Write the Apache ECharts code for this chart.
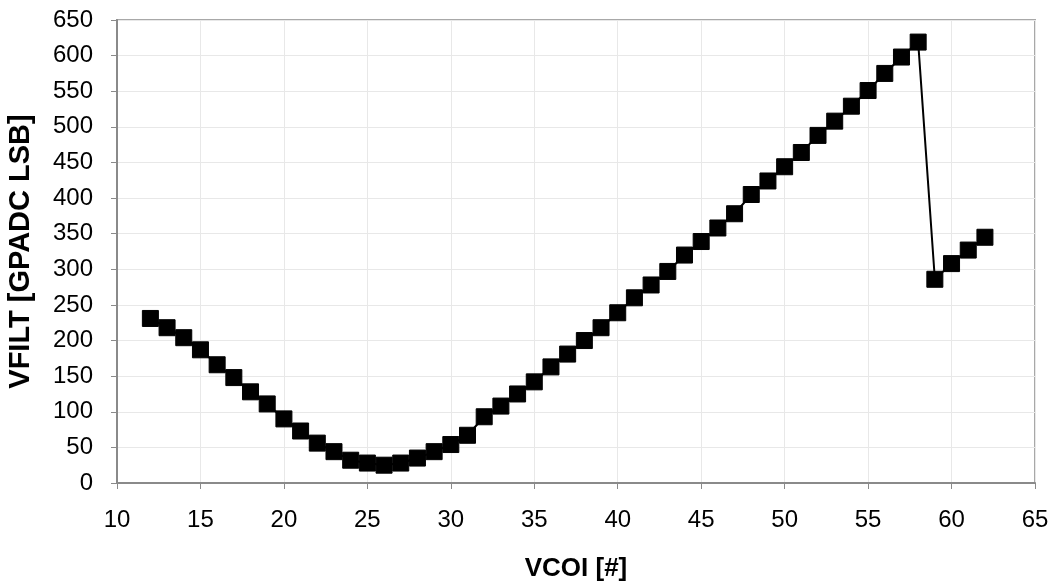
<!DOCTYPE html>
<html>
<head>
<meta charset="utf-8">
<script src="https://cdn.jsdelivr.net/npm/echarts@6/dist/echarts.min.js"></script>
<style>
  html, body {margin: 0; padding: 0; background: #fff;}
  #chart {width: 1055px; height: 586px;}
</style>
</head>
<body>
<div id="chart"></div>
<script>
// VCOI code vs. VFILT reading
const vcoi = [12, 13, 14, 15, 16, 17, 18, 19, 20, 21, 22, 23, 24, 25, 26, 27, 28, 29, 30, 31,
  32, 33, 34, 35, 36, 37, 38, 39, 40, 41, 42, 43, 44, 45, 46, 47, 48, 49, 50, 51,
  52, 53, 54, 55, 56, 57, 58, 59, 60, 61, 62];
const vfilt = [231, 218, 204, 187, 166, 148, 128, 111, 90, 73, 56, 44, 32, 28, 25, 28, 35, 44, 54, 67,
  93, 108, 125, 142, 163, 181, 200, 218, 239, 260, 278, 297, 320, 339, 358, 378, 405, 424, 444, 464,
  488, 508, 529, 551, 575, 598, 619, 286, 308, 327, 345];
const xTicks = [10, 15, 20, 25, 30, 35, 40, 45, 50, 55, 60, 65];
const yTicks = [0, 50, 100, 150, 200, 250, 300, 350, 400, 450, 500, 550, 600, 650];

const chart = echarts.init(document.getElementById('chart'));
const font = 'Liberation Sans, Arial, sans-serif';
const axisGrey = '#8a8a8a';

let points = [];
for (let i = 0; i < vcoi.length; i++) {
  points.push([vcoi[i], vfilt[i]]);
}

const option = {
  animation: false,
  backgroundColor: '#fff',
  grid: {
    left: 117, right: 20, top: 20, bottom: 103,
    outerBoundsMode: 'none',
    containLabel: false,
    show: true,
    borderColor: '#a8a8a8',
    borderWidth: 2
  },
  xAxis: {
    type: 'value',
    min: xTicks[0],
    max: xTicks[xTicks.length - 1],
    interval: 5,
    name: 'VCOI [#]',
    nameLocation: 'middle',
    nameGap: 73,
    nameTextStyle: {fontFamily: font, fontSize: 26, fontWeight: 'bold', color: '#000'},
    axisLine: {lineStyle: {color: axisGrey, width: 2}},
    axisTick: {show: true, length: 6, lineStyle: {color: axisGrey}},
    axisLabel: {fontFamily: font, fontSize: 24, color: '#000', margin: 25},
    splitLine: {show: true, lineStyle: {color: '#e8e8e8', width: 1}}
  },
  yAxis: {
    type: 'value',
    min: yTicks[0],
    max: yTicks[yTicks.length - 1],
    interval: 50,
    name: 'VFILT [GPADC LSB]',
    nameLocation: 'middle',
    nameGap: 82,
    nameRotate: 90,
    nameTextStyle: {fontFamily: font, fontSize: 29, fontWeight: 'bold', color: '#000'},
    axisLine: {show: true, lineStyle: {color: axisGrey, width: 2}},
    axisTick: {show: true, length: 6, lineStyle: {color: axisGrey}},
    axisLabel: {fontFamily: font, fontSize: 24, color: '#000', margin: 24},
    splitLine: {show: true, lineStyle: {color: '#e8e8e8', width: 1}}
  },
  series: [{
    type: 'line',
    data: points,
    symbol: 'rect',
    symbolSize: 16,
    lineStyle: {color: '#000', width: 2},
    itemStyle: {color: '#000', borderColor: '#000'}
  }]
};

chart.setOption(option);
</script>
</body>
</html>
